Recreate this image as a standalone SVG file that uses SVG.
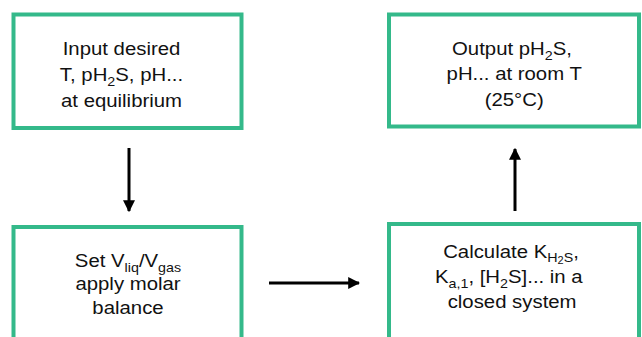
<svg xmlns="http://www.w3.org/2000/svg" width="642" height="337" viewBox="0 0 642 337">
  <defs>
    <style>
      .box { fill: #ffffff; stroke: #34b98a; stroke-width: 4; }
      .t { font-family: "Liberation Sans", Arial, Helvetica, sans-serif; font-size: 18.5px; fill: #111111; text-anchor: middle; }
      .sub { font-size: 13px; }
      .sub2 { font-size: 10px; }
      .conn { stroke: #000000; stroke-width: 3; fill: none; }
    </style>
    <marker id="ah" viewBox="0 0 10 10" refX="9" refY="5" markerWidth="4" markerHeight="4" orient="auto" markerUnits="strokeWidth">
      <path d="M0,0 L10,5 L0,10 Z" fill="#000000"/>
    </marker>
  </defs>
  <rect width="642" height="337" fill="#ffffff"/>

  <g id="node-input">
    <rect class="box" x="13.5" y="14.5" width="228" height="113.5"/>
    <g transform="translate(121.5 0) scale(1.1 1)">
      <text class="t" x="0" y="55.5">Input desired</text>
      <text class="t" x="0" y="81.5">T, pH<tspan class="sub" dy="5">2</tspan><tspan dy="-5">S, pH...</tspan></text>
      <text class="t" x="0" y="107.5">at equilibrium</text>
    </g>
  </g>

  <g id="node-output">
    <rect class="box" x="389" y="14.5" width="250" height="112"/>
    <g transform="translate(512 0) scale(1.1 1)">
      <text class="t" x="0" y="55">Output pH<tspan class="sub" dy="5">2</tspan><tspan dy="-5">S,</tspan></text>
      <text class="t" x="2" y="80.5">pH... at room T</text>
      <text class="t" x="2" y="106">(25°C)</text>
    </g>
  </g>

  <g id="node-set">
    <rect class="box" x="13.5" y="227" width="228" height="130"/>
    <g transform="translate(128 0) scale(1.1 1)">
      <text class="t" x="0" y="267">Set V<tspan class="sub" dy="5">liq</tspan><tspan dy="-5">/V</tspan><tspan class="sub" dy="5">gas</tspan></text>
      <text class="t" x="0" y="290.5">apply molar</text>
      <text class="t" x="0" y="314">balance</text>
    </g>
  </g>

  <g id="node-calc">
    <rect class="box" x="389" y="224" width="250" height="130"/>
    <g transform="translate(511 0) scale(1.1 1)">
      <text class="t" x="0" y="258.5">Calculate K<tspan class="sub" dy="4">H</tspan><tspan class="sub2" dy="2">2</tspan><tspan class="sub" dy="-2">S</tspan><tspan dy="-4">,</tspan></text>
      <text class="t" x="-2" y="283">K<tspan class="sub" dy="5">a,1</tspan><tspan dy="-5">, [H</tspan><tspan class="sub" dy="5">2</tspan><tspan dy="-5">S]... in a</tspan></text>
      <text class="t" x="1" y="308">closed system</text>
    </g>
  </g>

  <g id="connectors">
    <line class="conn" x1="129" y1="148" x2="129" y2="211" marker-end="url(#ah)"/>
    <line class="conn" x1="269" y1="283" x2="359" y2="283" marker-end="url(#ah)"/>
    <line class="conn" x1="515" y1="211" x2="515" y2="149" marker-end="url(#ah)"/>
  </g>
</svg>
